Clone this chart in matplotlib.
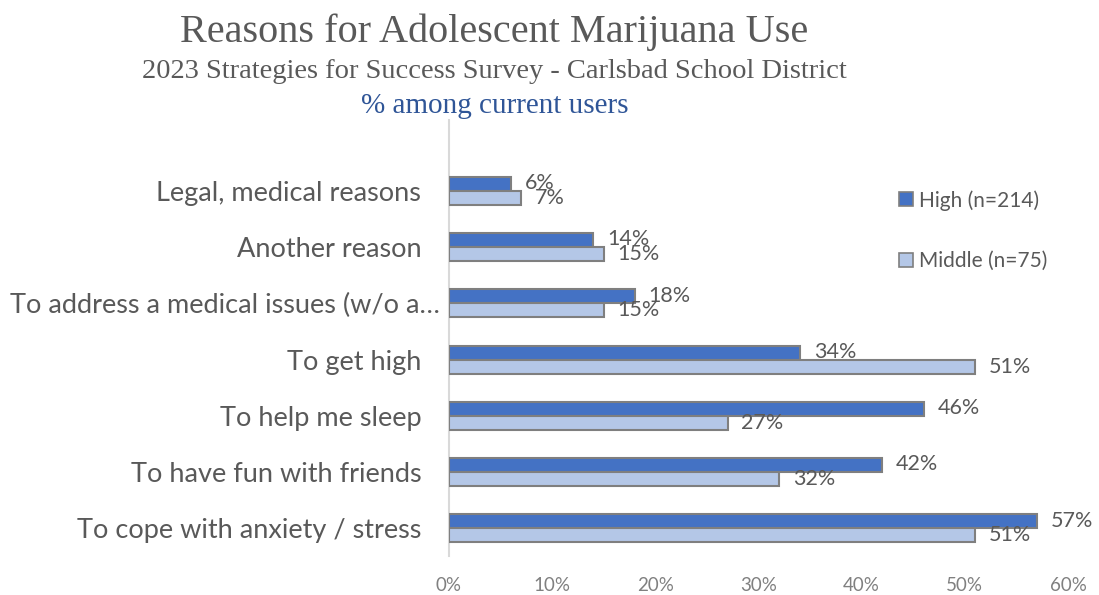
import matplotlib
matplotlib.use("Agg")
import matplotlib.pyplot as plt
import matplotlib.transforms as mtransforms
from matplotlib.lines import Line2D

categories = [
    "To cope with anxiety / stress",
    "To have fun with friends",
    "To help me sleep",
    "To get high",
    "To address a medical issues (w/o a\u2026",
    "Another reason",
    "Legal, medical reasons",
]
high = [57, 42, 46, 34, 18, 14, 6]
middle = [51, 32, 27, 51, 15, 15, 7]
series_names = ["High (n=214)", "Middle (n=75)"]
xticks = [0, 10, 20, 30, 40, 50, 60]

HIGH_COLOR = "#4472C4"
MID_COLOR = "#B4C7E7"
EDGE = "#7F7F7F"
TEXT = "#595959"
SANS = ["Lato", "DejaVu Sans"]
SERIF = ["Liberation Serif", "DejaVu Serif"]

fig = plt.figure(figsize=(10.99, 5.95), dpi=100)
ax = fig.add_axes([449 / 1099, 1 - 556 / 595, (1068 - 449) / 1099, (556 - 120) / 595])

ypos = list(range(len(categories)))
bh = 0.25
ax.barh([y + bh / 2 for y in ypos], high, height=bh, color=HIGH_COLOR,
        edgecolor=EDGE, linewidth=1.5, zorder=3)
ax.barh([y - bh / 2 for y in ypos], middle, height=bh, color=MID_COLOR,
        edgecolor=EDGE, linewidth=1.5, zorder=3)

for y, v in zip(ypos, high):
    ax.annotate(f"{v}%", (v, y + bh / 2), xytext=(10, 0.5), textcoords="offset points",
                va="center", ha="left", fontsize=15.5, color=TEXT, family=SANS)
for y, v in zip(ypos, middle):
    ax.annotate(f"{v}%", (v, y - bh / 2), xytext=(10, 0), textcoords="offset points",
                va="center", ha="left", fontsize=15.5, color=TEXT, family=SANS)

ax.set_xlim(0, 60)
ax.set_ylim(-0.49, 7.26)
ax.set_yticks(ypos)
ax.set_yticklabels(categories, fontsize=19.5, color=TEXT, family=SANS)
ax.set_xticks(xticks)
ax.set_xticklabels([f"{t}%" for t in xticks], fontsize=13.5, color="#808080", family=SANS)
ax.tick_params(axis="y", length=0, pad=20)
ax.tick_params(axis="x", length=0, pad=15)

# the truncated label sits a little further right, next to the axis
long_label = ax.get_yticklabels()[4]
long_label.set_transform(long_label.get_transform()
                         + mtransforms.ScaledTranslation(19 / 100, 0, fig.dpi_scale_trans))

for side in ["top", "right", "bottom"]:
    ax.spines[side].set_visible(False)
ax.spines["left"].set_color("#D9D9D9")
ax.spines["left"].set_linewidth(1.5)

handles = [
    Line2D([], [], marker="s", linestyle="none", markersize=9.5,
           markerfacecolor=HIGH_COLOR, markeredgecolor=EDGE, markeredgewidth=1.2),
    Line2D([], [], marker="s", linestyle="none", markersize=9.5,
           markerfacecolor=MID_COLOR, markeredgecolor=EDGE, markeredgewidth=1.2),
]
fig.legend(handles, series_names, loc="upper left", bbox_to_anchor=(897 / 1099, 1 - 190 / 595),
           frameon=False, handletextpad=0.15, labelspacing=1.95, handlelength=0.9,
           prop={"family": SANS, "size": 15}, labelcolor=TEXT, borderaxespad=0,
           borderpad=0)

fig.text(494 / 1099, 1 - 42 / 595, "Reasons for Adolescent Marijuana Use",
         ha="center", va="baseline", fontsize=29, color=TEXT, family=SERIF)
fig.text(494 / 1099, 1 - 78 / 595, "2023 Strategies for Success Survey - Carlsbad School District",
         ha="center", va="baseline", fontsize=20.5, color=TEXT, family=SERIF)
fig.text(495 / 1099, 1 - 113 / 595, "% among current users",
         ha="center", va="baseline", fontsize=21, color="#2F5597", family=SERIF)

fig.savefig("out.png", dpi=100, facecolor="white")
